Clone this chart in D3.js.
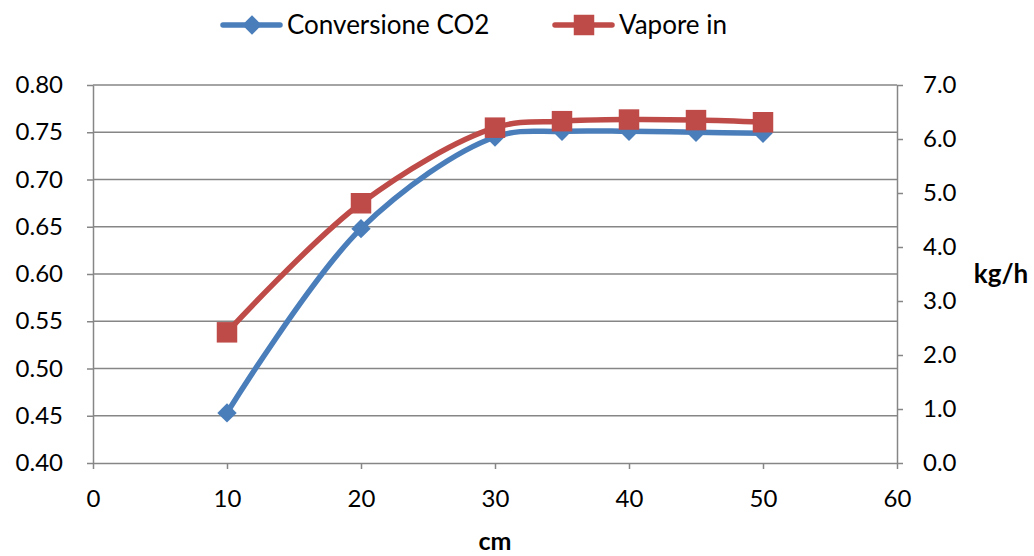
<!DOCTYPE html>
<html>
<head>
<meta charset="utf-8">
<script src="https://cdn.jsdelivr.net/npm/d3@7"></script>
<style>
  html, body { margin: 0; padding: 0; background: #fff; }
  svg { display: block; font-family: Lato, "Open Sans", sans-serif; }
</style>
</head>
<body>
<svg id="chart" width="1034" height="556"></svg>
<script>
// Column height (cm)
const lengths = [10, 20, 30, 35, 40, 45, 50];
// CO2 conversion (left axis)
const conversione = [0.453, 0.648, 0.745, 0.751, 0.751, 0.750, 0.749];
// Steam feed, kg/h (right axis)
const vapore = [2.42, 4.81, 6.21, 6.33, 6.36, 6.35, 6.31];

const xTicks = [0, 10, 20, 30, 40, 50, 60];
const leftTicks = [0.40, 0.45, 0.50, 0.55, 0.60, 0.65, 0.70, 0.75, 0.80];
const rightTicks = [0, 1, 2, 3, 4, 5, 6, 7];
const seriesNames = ["Conversione CO2", "Vapore in"];

const blue = "#4a7ebb", red = "#be4b48", axisGrey = "#868686";
const svg = d3.select("#chart");
const plot = { left: 93, right: 897, top: 85, bottom: 463 };

const x = d3.scaleLinear().domain([0, 60]).range([plot.left, plot.right]);
const yL = d3.scaleLinear().domain([0.40, 0.80]).range([plot.bottom, plot.top]);
const yR = d3.scaleLinear().domain([0, 7]).range([plot.bottom, plot.top]);

// horizontal gridlines
svg.append("g").selectAll("line").data(leftTicks.slice(1)).join("line")
  .attr("x1", plot.left).attr("x2", plot.right)
  .attr("y1", d => yL(d)).attr("y2", d => yL(d))
  .attr("stroke", axisGrey).attr("stroke-width", 1.5);

function styleAxis(g) {
  g.select(".domain").attr("stroke", axisGrey).attr("stroke-width", 1.5);
  g.selectAll(".tick line").attr("stroke", axisGrey).attr("stroke-width", 1.5);
  g.selectAll(".tick text").attr("fill", "#000").style("font-size", "24px")
    .style("font-family", "Lato, 'Open Sans', sans-serif");
}

svg.append("g").attr("transform", `translate(${plot.left},0)`)
  .call(d3.axisLeft(yL).tickValues(leftTicks).tickFormat(d3.format(".2f")).tickSize(6).tickPadding(24).tickSizeOuter(0))
  .call(styleAxis);

svg.append("g").attr("transform", `translate(${plot.right},0)`)
  .call(d3.axisRight(yR).tickValues(rightTicks).tickFormat(d3.format(".1f")).tickSize(6).tickPadding(20).tickSizeOuter(0))
  .call(styleAxis);

svg.append("g").attr("transform", `translate(0,${plot.bottom})`)
  .call(d3.axisBottom(x).tickValues(xTicks).tickFormat(d3.format("d")).tickSize(6).tickPadding(21).tickSizeOuter(0))
  .call(styleAxis);

// axis titles
svg.append("text").attr("x", x(30)).attr("y", 550).attr("text-anchor", "middle")
  .style("font-size", "25px").style("font-weight", "bold").text("cm");
svg.append("text").attr("x", 1001).attr("y", 283).attr("text-anchor", "middle")
  .style("font-size", "26px").style("font-weight", "bold").text("kg/h");

// series
const curve = d3.curveCatmullRom.alpha(0.5);
const lineL = d3.line().x((d, i) => x(lengths[i])).y(d => yL(d)).curve(curve);
const lineR = d3.line().x((d, i) => x(lengths[i])).y(d => yR(d)).curve(curve);

const diamond = d3.symbol().type(d3.symbolDiamond2).size(240);
const square = d3.symbol().type(d3.symbolSquare).size(420);

svg.append("path").attr("d", lineL(conversione)).attr("fill", "none")
  .attr("stroke", blue).attr("stroke-width", 5.5).attr("stroke-linejoin", "round");
svg.append("g").selectAll("path").data(conversione).join("path")
  .attr("transform", (d, i) => `translate(${x(lengths[i])},${yL(d)})`)
  .attr("d", diamond).attr("fill", blue);

svg.append("path").attr("d", lineR(vapore)).attr("fill", "none")
  .attr("stroke", red).attr("stroke-width", 5.5).attr("stroke-linejoin", "round");
svg.append("g").selectAll("path").data(vapore).join("path")
  .attr("transform", (d, i) => `translate(${x(lengths[i])},${yR(d)})`)
  .attr("d", square).attr("fill", red);

// legend
const legend = [
  { name: seriesNames[0], color: blue, sym: diamond, x0: 221 },
  { name: seriesNames[1], color: red, sym: square, x0: 553 }
];
const lg = svg.append("g").selectAll("g").data(legend).join("g")
  .attr("transform", d => `translate(${d.x0},25)`);
lg.append("line").attr("x1", 2).attr("x2", 59).attr("y1", 0).attr("y2", 0)
  .attr("stroke", d => d.color).attr("stroke-width", 5.5).attr("stroke-linecap", "round");
lg.append("path").attr("transform", "translate(31,0)").attr("d", d => d.sym()).attr("fill", d => d.color);
lg.append("text").attr("x", 66).attr("y", 9).style("font-size", "26px").text(d => d.name);
</script>
</body>
</html>
